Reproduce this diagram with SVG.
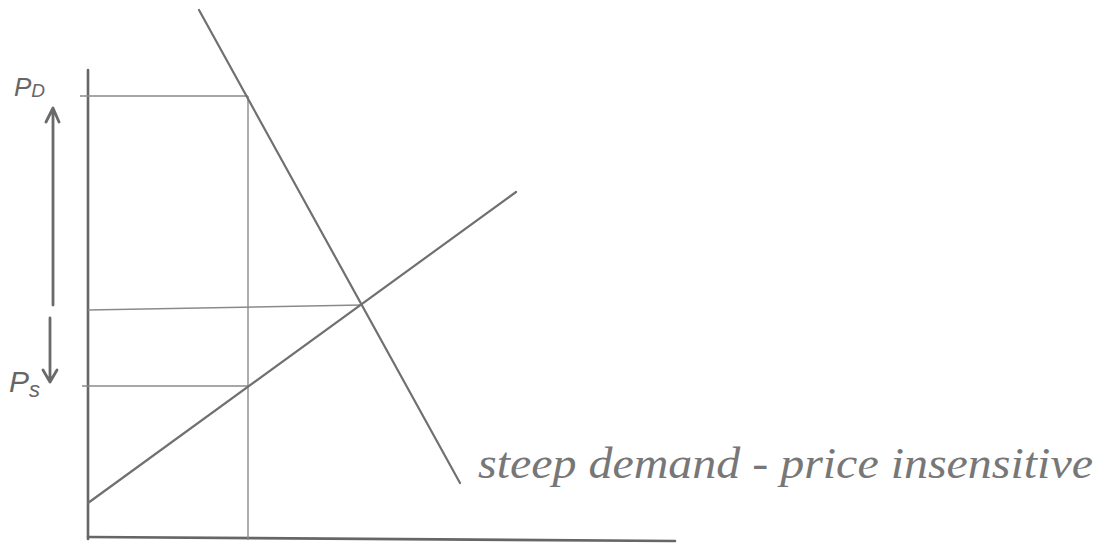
<svg xmlns="http://www.w3.org/2000/svg" width="1110" height="547" viewBox="0 0 1110 547">
<style>
.axis{stroke:#666;stroke-width:2.6;fill:none;stroke-linecap:round}
.curve{stroke:#707070;stroke-width:2.2;fill:none;stroke-linecap:round}
.guide{stroke:#8a8a8a;stroke-width:1.4;fill:none}
.arr{stroke:#6a6a6a;stroke-width:2.8;fill:none;stroke-linecap:round;stroke-linejoin:round}
.lbl{font-family:"Liberation Sans",Arial,sans-serif;fill:#666;font-style:italic}
.note{font-family:"Liberation Serif","Times New Roman",serif;fill:#777;font-style:italic}
</style>
<rect width="1110" height="547" fill="#ffffff"/>
<g id="axes">
<line class="axis" x1="88" y1="70" x2="88" y2="539"/>
<line class="axis" x1="88" y1="537" x2="675" y2="541"/>
</g>
<g id="connectors">
<line class="guide" x1="80" y1="96" x2="248" y2="96"/>
<line class="guide" x1="248" y1="96" x2="248" y2="540"/>
<line class="guide" x1="82" y1="386" x2="248" y2="386"/>
<line class="guide" x1="88" y1="310" x2="362" y2="305"/>
</g>
<g id="demand">
<line class="curve" x1="199" y1="10" x2="460" y2="483"/>
</g>
<g id="supply">
<line class="curve" x1="88" y1="503" x2="516" y2="192"/>
</g>
<g id="price-arrow">
<path class="arr" d="M53,305 L53,110 M46,122 L53,108 L59,122"/>
<path class="arr" d="M50,318 L50,380 M43,370 L50,382 L57,370"/>
</g>
<g id="label-pd">
<text class="lbl" x="14" y="96" font-size="26">P<tspan font-size="19" dy="1">D</tspan></text>
</g>
<g id="label-ps">
<text class="lbl" x="9" y="392" font-size="30">P<tspan font-size="22" dy="5">s</tspan></text>
</g>
<g id="label-demand">
<text class="note" x="478" y="478" font-size="44" textLength="615" lengthAdjust="spacingAndGlyphs">steep demand - price insensitive</text>
</g>
</svg>
